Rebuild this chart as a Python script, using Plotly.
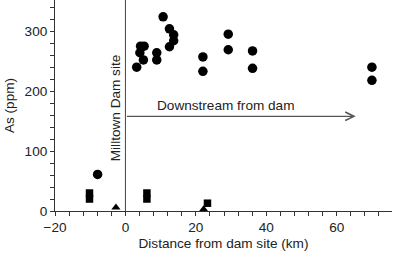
import plotly.graph_objects as go

# Circles
circle_x = [-7.9, 3.2, 4.1, 4.3, 5.3, 5.1, 8.9, 8.9, 10.7, 12.5, 13.7, 13.7, 12.5,
            22.0, 22.0, 29.2, 29.2, 36.1, 36.1, 70.0, 70.0]
circle_y = [61, 240, 264, 275, 275, 252, 264, 252, 324, 304, 294, 284, 274,
            257, 233, 295, 269, 267, 238, 240, 218]

square_x = [-10.2, -10.2, 6.1, 6.1, 23.3]
square_y = [30, 20, 30, 20, 13]

triangle_x = [-2.7, 22.2]
triangle_y = [6, 3]

x_ticks = [-20, 0, 20, 40, 60]
x_tick_labels = ["\u221220", "0", "20", "40", "60"]
y_ticks = [0, 100, 200, 300]

dam_x = 0
arrow_start = (0, 158)
arrow_end = (65.4, 158)
dam_label = "Milltown Dam site"
arrow_label = "Downstream from dam"

FONT = "Liberation Sans, Arial, sans-serif"
TXT = "#222222"
FS = 13.6

fig = go.Figure()
fig.add_trace(go.Scatter(x=circle_x, y=circle_y, mode="markers",
                         marker=dict(symbol="circle", size=9.5, color="black"),
                         showlegend=False, cliponaxis=False))
fig.add_trace(go.Scatter(x=square_x, y=square_y, mode="markers",
                         marker=dict(symbol="square", size=7.5, color="black"),
                         showlegend=False, cliponaxis=False))
fig.add_trace(go.Scatter(x=triangle_x, y=triangle_y, mode="markers",
                         marker=dict(symbol="triangle-up", size=8, color="black"),
                         showlegend=False, cliponaxis=False))

fig.add_shape(type="line", x0=dam_x, x1=dam_x, y0=0, y1=1, xref="x", yref="paper",
              line=dict(color="#444444", width=1))

fig.add_annotation(x=arrow_end[0], y=arrow_end[1], ax=arrow_start[0], ay=arrow_start[1],
                   xref="x", yref="y", axref="x", ayref="y", text="",
                   showarrow=True, arrowhead=5, arrowsize=1.3, arrowwidth=1.3,
                   arrowcolor="#555555", standoff=0, startstandoff=0)

fig.add_annotation(x=dam_x, y=173, xref="x", yref="y", text=dam_label,
                   textangle=-90, showarrow=False, xanchor="right", xshift=-1,
                   font=dict(family=FONT, size=FS, color=TXT))
fig.add_annotation(x=28.3, y=158, xref="x", yref="y", text=arrow_label,
                   showarrow=False, yanchor="bottom", yshift=1,
                   font=dict(family=FONT, size=FS, color=TXT))

axis_common = dict(showgrid=False, zeroline=False, showline=True, linecolor="#333333",
                   linewidth=1, ticks="outside", ticklen=4, tickcolor="#333333",
                   tickfont=dict(family=FONT, size=FS, color=TXT), mirror=False)

fig.update_xaxes(range=[-20, 75.7], tickvals=x_ticks, ticktext=x_tick_labels,
                 minor=dict(dtick=4, tick0=0, ticks="outside", ticklen=4, tickcolor="#333333"),
                 title=dict(text="Distance from dam site (km)", standoff=4,
                            font=dict(family=FONT, size=FS, color=TXT)),
                 **axis_common)
fig.update_yaxes(range=[0, 352], tickvals=y_ticks,
                 minor=dict(dtick=20, tick0=0, ticks="outside", ticklen=4, tickcolor="#333333"),
                 title=dict(text="As (ppm)", standoff=6,
                            font=dict(family=FONT, size=FS, color=TXT)),
                 **axis_common)

fig.update_layout(width=394, height=257, margin=dict(l=55, r=2, t=0, b=46),
                  plot_bgcolor="white", paper_bgcolor="white", showlegend=False)

fig.write_html("out.html", config={"displayModeBar": False},
               post_script="document.body.style.margin='0';")
